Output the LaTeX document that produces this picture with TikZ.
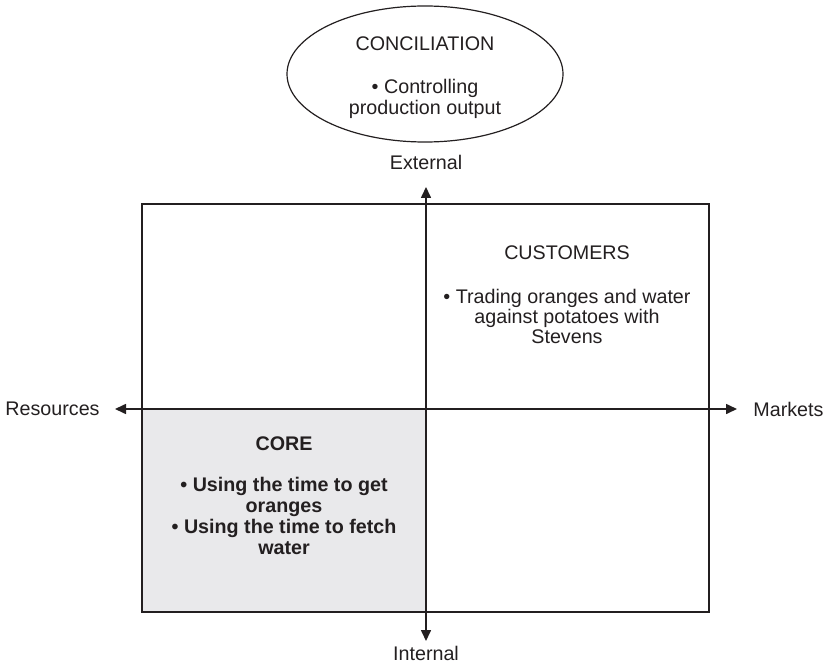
\documentclass[tikz,border=0pt]{standalone}
\usepackage{fontspec}
\setmainfont{Liberation Sans}
\usetikzlibrary{arrows.meta,shapes.geometric}
\definecolor{ink}{HTML}{231F20}
\definecolor{coregray}{HTML}{E9E9EB}
\begin{document}
\begin{tikzpicture}
            [x=0.5pt, y=-0.5pt, ink,
            txt/.style={inner sep=0pt, align=center, font=\fontsize{9.85pt}{10.5pt}\selectfont},
            lbl/.style={inner sep=0pt, font=\fontsize{9.85pt}{10.5pt}\selectfont},
            frame/.style={draw=ink, line width=0.65pt},
            axis/.style={{Triangle[length=5.5pt,width=5pt]}-{Triangle[length=5.5pt,width=5pt]}, line width=0.8pt, ink},
            oval/.style={ellipse, draw=ink, line width=0.6pt, minimum width=138pt, minimum height=68pt}]

            \useasboundingbox (0,0) rectangle (824,663);

            % Shaded core quadrant and the outer frame
            \fill[coregray] (142,409) rectangle (426,612);
            \draw[frame] (142,204) rectangle (709,612);

            % Ellipse above the frame
            \node[oval] (concil) at (425,74) {};
            \node[txt] (conciltext) at (425,36) [anchor=north] {CONCILIATION\\[11pt]• Controlling\\production output};

            % Axis ends
            \coordinate (W) at (115,409);
            \coordinate (E) at (737,409);
            \coordinate (N) at (426,187);
            \coordinate (S) at (426,641);

            \draw[axis] (W) -- (E);
            \draw[axis] (S) -- (N);

            % Labels for the axes
            \node[lbl] (res) at (100,409) [anchor=east] {Resources};
            \node[lbl] (mkt) at (753,409) [anchor=west] {Markets};
            \node[lbl] (ext) at (426,162) {External};
            \node[lbl] (int) at (426,653) {Internal};

            % Quadrant texts
            \node[txt, font=\fontsize{9.85pt}{10pt}\selectfont] (cust) at (567,245) [anchor=north]
                {CUSTOMERS\\[12pt]• Trading oranges and water\\against potatoes with\\Stevens};
            \node[txt, font=\bfseries\fontsize{9.85pt}{10.5pt}\selectfont] (core) at (284,436) [anchor=north]
                {CORE\\[10pt]• Using the time to get\\oranges\\• Using the time to fetch\\water};

        \end{tikzpicture}
\end{document}
